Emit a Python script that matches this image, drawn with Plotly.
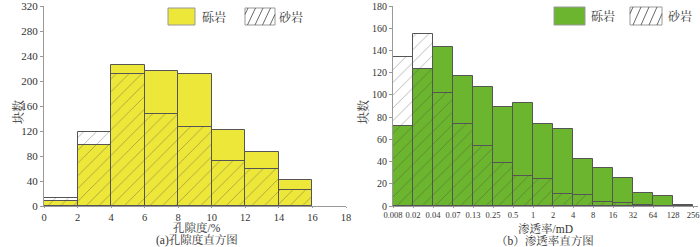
import plotly.graph_objects as go

# ---------------- data ----------------
por_edges = [0, 2, 4, 6, 8, 10, 12, 14, 16]
por_gravel = [8, 97, 225, 216, 211, 122, 86, 41]
por_sand = [13, 118, 212, 148, 126, 72, 60, 26]

perm_ticks = ["0.008", "0.02", "0.04", "0.07", "0.13", "0.25", "0.5", "1", "2",
              "4", "8", "16", "32", "64", "128", "256"]
perm_gravel = [72, 123, 143, 117, 107, 89, 93, 74, 69, 42, 34, 25, 12, 9, 1]
perm_sand = [134, 155, 102, 74, 54, 39, 27, 24, 11, 10, 4, 3, 1, 0, 0]

names = ["砾岩", "砂岩"]
# --------------------------------------

W, H = 700, 247
MT, MB = 6, 41
PH = H - MT - MB

FONT = "Liberation Serif, Noto Serif CJK SC, Noto Sans CJK SC, serif"
YELLOW = "#ede73a"
GREEN = "#6cb52e"
HATCH = dict(shape="/", fgcolor="#444444", bgcolor="rgba(0,0,0,0)", size=9, solidity=0.08)

def px(x):
    return x / W

def py(y):
    return (H - MB - y) / PH

fig = go.Figure()

por_mid = [(por_edges[i] + por_edges[i + 1]) / 2 for i in range(len(por_gravel))]
fig.add_trace(go.Bar(x=por_mid, y=por_gravel, width=2, name=names[0],
                     marker=dict(color=YELLOW, line=dict(color="#555555", width=1)),
                     xaxis="x", yaxis="y", showlegend=False))
fig.add_trace(go.Bar(x=por_mid, y=por_sand, width=2, name=names[1],
                     marker=dict(color="rgba(0,0,0,0)", pattern=HATCH,
                                 line=dict(color="#555555", width=1)),
                     xaxis="x", yaxis="y", showlegend=False))

perm_mid = [i + 0.5 for i in range(len(perm_gravel))]
fig.add_trace(go.Bar(x=perm_mid, y=perm_gravel, width=1, name=names[0],
                     marker=dict(color=GREEN, line=dict(color="#555555", width=1)),
                     xaxis="x2", yaxis="y2", showlegend=False))
fig.add_trace(go.Bar(x=perm_mid, y=perm_sand, width=1, name=names[1],
                     marker=dict(color="rgba(0,0,0,0)", pattern=HATCH,
                                 line=dict(color="#555555", width=1)),
                     xaxis="x2", yaxis="y2", showlegend=False))

def axis(size, ticklen=3, **kw):
    d = dict(showgrid=False, zeroline=False, showline=True, linecolor="#999999",
             linewidth=1, ticks="outside", ticklen=ticklen, tickcolor="#999999",
             automargin=False, ticklabeloverflow="allow",
             tickfont=dict(family=FONT, size=size, color="#333333"))
    d.update(kw)
    return d

fig.update_layout(
    width=W, height=H, barmode="overlay", bargap=0,
    margin=dict(l=0, r=0, t=MT, b=MB, autoexpand=False),
    paper_bgcolor="white", plot_bgcolor="white",
    font=dict(family=FONT, color="#333333"),
    xaxis=axis(10.5, ticklen=1, domain=[px(44), px(346)], range=[0, 18],
               tickvals=list(range(0, 19, 2)), anchor="y"),
    yaxis=axis(11, domain=[0, 1], range=[0, 320],
               tickvals=list(range(0, 321, 40)), anchor="x"),
    xaxis2=axis(8.5, ticklen=1, domain=[px(393), px(698)], range=[0, 15.25],
                tickvals=list(range(len(perm_ticks))), ticktext=perm_ticks, anchor="y2"),
    yaxis2=axis(10, domain=[0, 1], range=[0, 180],
                tickvals=list(range(0, 181, 20)), anchor="x2"),
)

ann = []
def text(x, y, s, size=12, angle=0):
    ann.append(dict(x=px(x), y=py(y), xref="paper", yref="paper", text=s, showarrow=False,
                    textangle=angle, font=dict(family=FONT, size=size, color="#333333"),
                    xanchor="center", yanchor="middle"))

text(18, 112, "块数", 12, -90)
text(363, 112, "块数", 12, -90)
text(197, 227, "孔隙度/%", 11.5)
text(197, 240, "(a)孔隙度直方图", 11.5)
text(545, 228, "渗透率/mD", 11.5)
text(545, 240, "（b）渗透率直方图", 11.5)

# legend entries
shapes = []
def box(x0, y0, x1, y1, fill, hatch=False):
    shapes.append(dict(type="rect", xref="paper", yref="paper", x0=px(x0), x1=px(x1),
                       y0=py(y1), y1=py(y0), fillcolor=fill,
                       line=dict(color="#999999", width=1)))
    if hatch:
        n = 4
        step = (x1 - x0) / n
        for i in range(n + 1):
            xa = x0 + i * step - 5
            xb = xa + 8
            ya, yb = y1, y0
            if xa < x0:
                ya = y1 - (x0 - xa) * (y1 - y0) / 8
                xa = x0
            if xb > x1:
                yb = y0 + (xb - x1) * (y1 - y0) / 8
                xb = x1
            if xb <= xa:
                continue
            shapes.append(dict(type="line", xref="paper", yref="paper",
                               x0=px(xa), y0=py(ya), x1=px(xb), y1=py(yb),
                               line=dict(color="#444444", width=0.8)))

box(168, 8, 195, 25, YELLOW)
text(214, 17, names[0], 12)
box(245, 8, 275, 25, "white", hatch=True)
text(291, 17, names[1], 12)

box(554, 7, 585, 25, GREEN)
text(603, 16, names[0], 12)
box(630, 7, 662, 25, "white", hatch=True)
text(680, 16, names[1], 12)

fig.update_layout(annotations=ann, shapes=shapes)
fig.write_html("out.html", config={"displayModeBar": False},
               post_script="document.body.style.margin='0';")
